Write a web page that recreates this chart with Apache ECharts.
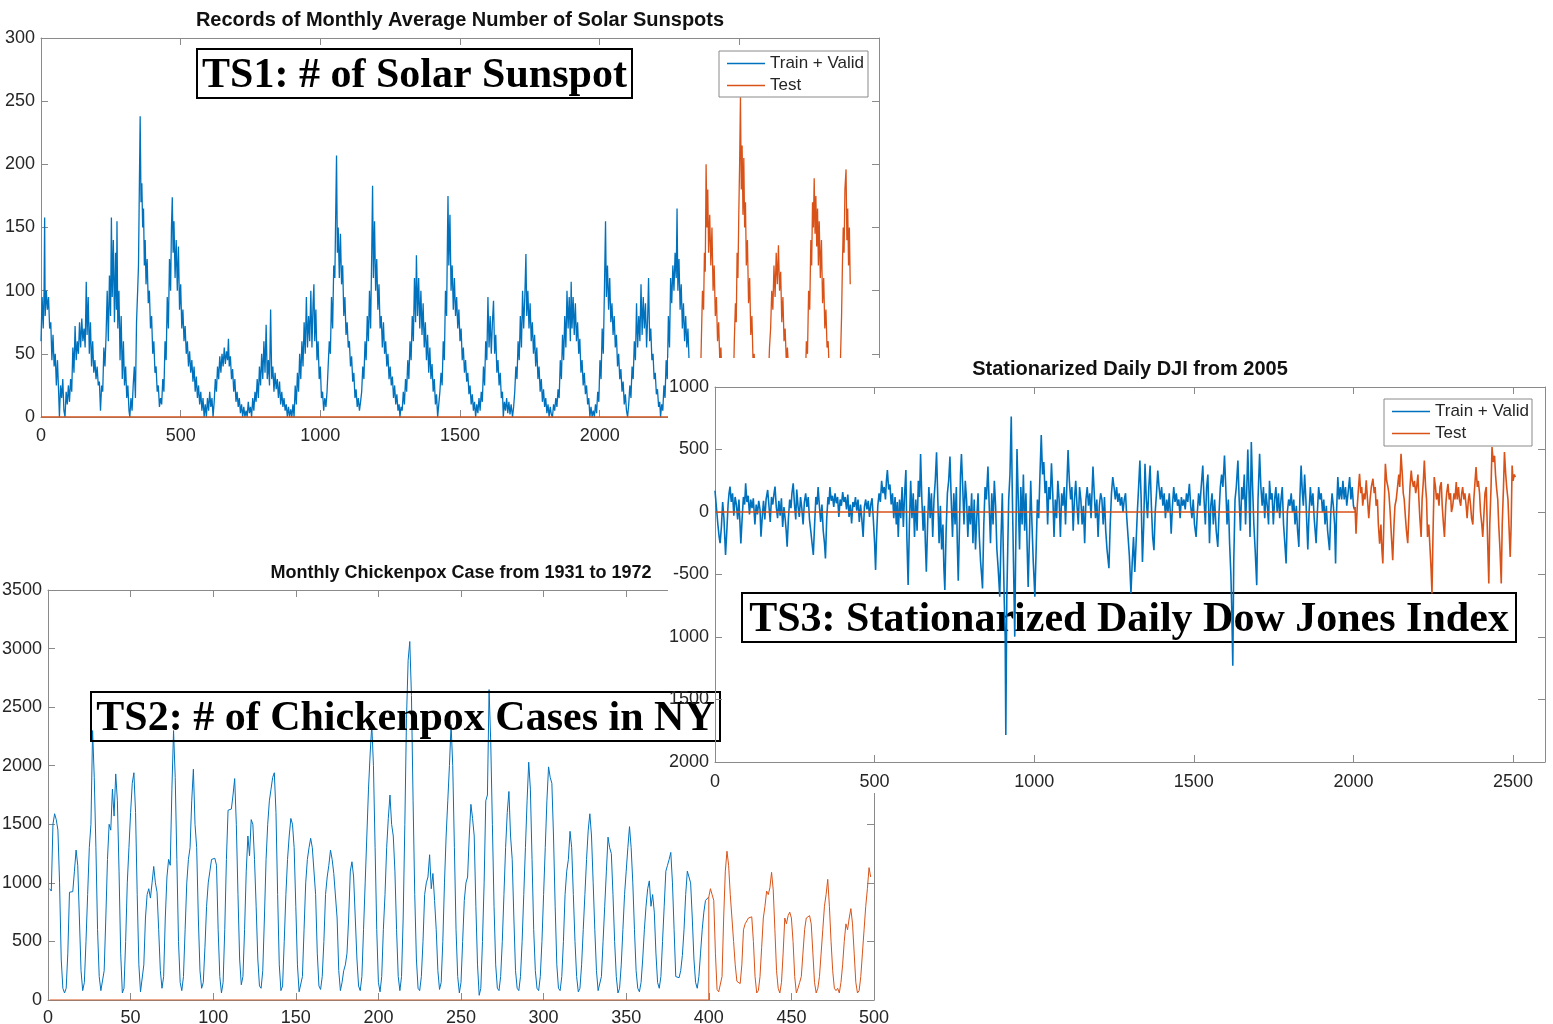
<!DOCTYPE html>
<html>
<head>
<meta charset="utf-8">
<title>TS1 / TS2 / TS3</title>
<script src="https://cdn.jsdelivr.net/npm/echarts@6/dist/echarts.min.js"></script>
<style>
html, body { margin: 0; padding: 0; background: #fff; }
.layer { position: absolute; left: 0; top: 0; width: 1553px; height: 1024px; }
</style>
</head>
<body>
<div id="ts1" class="layer"></div>
<div id="ts2" class="layer"></div>
<div id="ts3" class="layer"></div>
<script>
// ---- TS1: monthly sunspots, [index, value]
const sunTrain = [[0,60],[4,95],[8,70],[11,100],[13,158],[15,80],[19,100],[23,85],[27,95],[31,70],[35,75],[39,45],[43,65],[47,40],[51,50],[55,25],[59,45],[63,20],[66,0],[70,25],[74,15],[78,30],[82,5],[86,0],[90,20],[94,10],[98,25],[102,12],[106,30],[110,20],[114,55],[118,35],[122,72],[126,45],[130,60],[134,50],[138,75],[142,55],[146,78],[150,60],[154,70],[158,55],[162,107],[165,65],[169,95],[173,50],[177,75],[181,40],[185,60],[189,35],[193,45],[197,30],[201,40],[205,25],[209,28],[213,5],[217,25],[221,20],[225,55],[229,40],[233,65],[237,100],[241,60],[245,112],[249,80],[252,158],[255,95],[259,140],[263,75],[267,130],[270,85],[272,155],[275,70],[279,100],[283,45],[287,80],[291,30],[295,60],[299,25],[303,40],[307,15],[311,25],[315,5],[318,0],[322,15],[326,5],[330,25],[334,40],[338,15],[342,75],[346,100],[349,120],[352,180],[355,238],[358,170],[361,185],[364,150],[367,165],[370,120],[373,140],[376,105],[380,125],[384,90],[388,100],[392,70],[396,80],[400,50],[404,60],[408,35],[412,40],[416,20],[420,25],[424,8],[428,15],[432,10],[436,30],[440,20],[444,60],[448,45],[452,95],[456,70],[460,125],[464,100],[467,150],[470,174],[473,130],[476,155],[480,110],[484,140],[488,100],[492,135],[496,85],[500,105],[504,70],[508,85],[512,60],[516,72],[520,50],[524,60],[528,40],[532,52],[536,35],[540,45],[544,28],[548,40],[552,20],[556,32],[560,15],[564,25],[568,10],[572,20],[576,5],[580,15],[584,0],[588,10],[592,0],[596,15],[600,5],[604,20],[608,8],[612,15],[616,0],[620,12],[624,30],[628,20],[632,40],[636,30],[640,48],[644,35],[648,50],[652,40],[656,55],[660,42],[664,52],[668,45],[671,62],[674,40],[678,48],[682,30],[686,38],[690,20],[694,30],[698,12],[702,20],[706,8],[710,15],[714,3],[718,10],[722,0],[726,8],[730,0],[734,5],[738,0],[742,12],[746,3],[750,8],[754,0],[758,15],[762,5],[766,20],[770,12],[774,30],[778,15],[782,40],[786,25],[790,50],[794,30],[798,60],[802,35],[806,73],[810,30],[814,45],[818,25],[822,85],[826,30],[830,40],[834,20],[838,35],[842,22],[846,30],[850,15],[854,28],[858,10],[862,20],[866,8],[870,15],[874,5],[878,10],[882,0],[886,8],[890,0],[894,6],[898,0],[902,10],[906,0],[910,25],[914,10],[918,35],[922,20],[926,50],[930,30],[934,60],[938,40],[942,75],[946,50],[950,95],[954,55],[958,80],[962,60],[966,100],[970,55],[974,90],[977,105],[980,60],[984,85],[988,45],[992,60],[996,30],[1000,40],[1004,15],[1008,20],[1012,5],[1016,15],[1020,8],[1024,20],[1028,40],[1032,60],[1036,50],[1040,95],[1044,70],[1048,120],[1052,110],[1055,160],[1058,207],[1061,130],[1064,150],[1068,110],[1072,145],[1076,105],[1080,120],[1084,80],[1088,95],[1092,65],[1096,75],[1100,55],[1104,60],[1108,40],[1112,48],[1116,28],[1120,35],[1124,15],[1128,22],[1132,8],[1136,15],[1140,5],[1144,12],[1148,20],[1152,40],[1156,30],[1160,60],[1164,45],[1168,80],[1172,60],[1176,100],[1180,70],[1184,130],[1187,183],[1190,110],[1194,155],[1198,100],[1202,125],[1206,85],[1210,105],[1214,70],[1218,80],[1222,55],[1226,75],[1230,50],[1234,60],[1238,40],[1242,50],[1246,30],[1250,40],[1254,25],[1258,32],[1262,15],[1266,25],[1270,10],[1274,18],[1278,5],[1282,10],[1285,0],[1289,8],[1293,5],[1297,20],[1301,10],[1305,30],[1309,20],[1313,45],[1317,30],[1321,60],[1325,45],[1329,80],[1333,60],[1337,110],[1341,75],[1344,128],[1348,80],[1352,110],[1356,70],[1360,100],[1364,65],[1368,90],[1372,55],[1376,75],[1380,45],[1384,65],[1388,35],[1392,55],[1396,30],[1400,42],[1404,20],[1408,30],[1412,10],[1416,18],[1420,0],[1424,10],[1428,20],[1432,35],[1436,25],[1440,60],[1444,45],[1448,100],[1452,80],[1455,140],[1457,175],[1460,120],[1464,160],[1468,100],[1472,120],[1476,85],[1480,110],[1484,80],[1488,95],[1492,70],[1496,85],[1500,60],[1504,70],[1508,45],[1512,55],[1516,35],[1520,45],[1524,28],[1528,35],[1532,18],[1536,25],[1540,10],[1544,18],[1548,5],[1552,12],[1556,0],[1560,10],[1564,3],[1568,15],[1572,5],[1576,20],[1580,12],[1584,40],[1588,25],[1592,60],[1596,45],[1600,95],[1604,55],[1608,80],[1612,50],[1616,75],[1620,92],[1624,50],[1628,65],[1632,35],[1636,45],[1640,25],[1644,35],[1648,15],[1652,20],[1655,0],[1659,12],[1663,5],[1667,15],[1671,3],[1675,12],[1679,2],[1683,10],[1688,0],[1692,8],[1696,20],[1700,40],[1704,30],[1708,60],[1712,45],[1716,80],[1720,55],[1724,100],[1728,70],[1732,95],[1736,129],[1739,80],[1743,100],[1747,70],[1751,90],[1755,60],[1759,75],[1763,50],[1767,65],[1771,40],[1775,55],[1779,30],[1783,40],[1787,20],[1791,30],[1795,12],[1799,22],[1803,8],[1807,15],[1811,3],[1815,10],[1819,0],[1823,8],[1827,2],[1831,0],[1835,10],[1839,5],[1843,15],[1847,8],[1851,22],[1855,15],[1859,45],[1863,30],[1867,65],[1871,45],[1875,80],[1879,55],[1883,100],[1887,70],[1891,95],[1895,60],[1898,107],[1901,70],[1905,95],[1909,65],[1913,90],[1917,60],[1921,75],[1925,50],[1929,62],[1933,35],[1937,45],[1941,25],[1945,35],[1949,18],[1953,25],[1957,10],[1961,15],[1965,0],[1969,8],[1973,0],[1977,5],[1981,0],[1985,10],[1989,3],[1993,20],[1997,12],[2001,45],[2005,30],[2009,70],[2013,50],[2017,100],[2021,155],[2024,95],[2028,120],[2032,85],[2036,110],[2040,75],[2044,90],[2048,65],[2052,80],[2056,55],[2060,65],[2064,40],[2068,50],[2072,30],[2076,38],[2080,20],[2084,28],[2088,10],[2092,18],[2096,5],[2100,0],[2104,10],[2108,25],[2112,15],[2116,40],[2120,30],[2124,60],[2128,45],[2132,90],[2136,55],[2140,80],[2144,60],[2148,105],[2152,65],[2156,95],[2160,70],[2164,90],[2168,55],[2172,80],[2175,110],[2179,60],[2183,70],[2187,45],[2191,50],[2195,30],[2199,35],[2203,18],[2207,22],[2211,8],[2215,12],[2218,0],[2222,10],[2226,5],[2230,25],[2234,15],[2238,45],[2242,30],[2246,80],[2250,55],[2254,110],[2258,90],[2262,120],[2266,100],[2270,130],[2274,110],[2277,165],[2280,100],[2284,125],[2288,85],[2292,105],[2296,70],[2300,90],[2304,60],[2308,80],[2312,55],[2316,70],[2320,45],[2324,40]];
const sunTest = [[0,0],[2358,0],[2360,20],[2364,60],[2368,100],[2372,85],[2375,130],[2378,115],[2381,200],[2384,150],[2387,180],[2390,130],[2394,160],[2398,120],[2402,150],[2406,100],[2410,120],[2414,80],[2418,95],[2422,60],[2426,75],[2430,45],[2434,55],[2438,30],[2444,35],[2450,15],[2456,20],[2462,5],[2468,10],[2474,2],[2478,15],[2482,60],[2486,90],[2489,75],[2492,130],[2495,110],[2498,160],[2501,200],[2504,253],[2507,180],[2510,215],[2513,160],[2516,205],[2519,150],[2522,170],[2525,120],[2529,140],[2533,90],[2537,110],[2541,65],[2545,80],[2549,45],[2553,50],[2558,25],[2564,15],[2570,5],[2576,12],[2582,2],[2588,10],[2594,3],[2600,15],[2604,30],[2608,55],[2612,70],[2616,100],[2620,85],[2624,120],[2628,95],[2632,130],[2636,105],[2640,136],[2644,100],[2648,115],[2652,75],[2656,95],[2660,60],[2664,70],[2668,45],[2672,55],[2676,40],[2682,30],[2688,15],[2694,20],[2700,5],[2706,10],[2712,0],[2718,8],[2724,2],[2730,10],[2736,25],[2740,60],[2744,50],[2748,100],[2752,85],[2756,140],[2759,120],[2762,170],[2765,150],[2768,189],[2771,145],[2774,175],[2777,135],[2780,165],[2783,120],[2786,155],[2790,110],[2794,140],[2798,90],[2802,110],[2806,70],[2810,85],[2814,55],[2818,60],[2822,35],[2828,30],[2834,15],[2840,10],[2846,3],[2852,10],[2858,20],[2862,45],[2866,80],[2869,120],[2872,150],[2875,130],[2878,180],[2882,196],[2885,140],[2888,165],[2891,120],[2894,150],[2897,105]];

// ---- TS2: monthly chickenpox cases, [month, cases]
const poxTrain = [[1,950],[2,930],[3,1500],[4,1590],[5,1540],[6,1450],[7,1000],[8,350],[9,100],[10,60],[11,100],[12,400],[13,920],[14,920],[15,925],[16,1100],[17,1280],[18,1150],[19,700],[20,250],[21,80],[22,150],[23,500],[24,900],[25,1300],[26,1500],[27,2300],[28,1900],[29,1300],[30,600],[31,200],[32,80],[33,65],[34,250],[35,700],[36,1200],[37,1500],[38,1450],[39,1800],[40,1570],[41,1930],[42,1700],[43,1100],[44,400],[45,60],[46,100],[47,500],[48,1000],[49,1300],[50,1600],[51,1850],[52,1940],[53,1600],[54,900],[55,300],[56,70],[57,60],[58,300],[59,700],[60,900],[61,950],[62,870],[63,1000],[64,1140],[65,1000],[66,920],[67,600],[68,250],[69,100],[70,200],[71,700],[72,1050],[73,1200],[74,1150],[75,1800],[76,2300],[77,1900],[78,1200],[79,500],[80,150],[81,80],[82,200],[83,600],[84,1000],[85,1200],[86,1300],[87,1700],[88,1970],[89,1500],[90,1300],[91,700],[92,250],[93,100],[94,150],[95,450],[96,800],[97,1000],[98,1100],[99,1200],[100,1210],[101,1210],[102,1150],[103,600],[104,200],[105,60],[106,150],[107,600],[108,1200],[109,1620],[110,1610],[111,1630],[112,1750],[113,1890],[114,1500],[115,900],[116,350],[117,130],[118,200],[119,600],[120,1100],[121,1400],[122,1230],[123,1540],[124,1500],[125,1200],[126,800],[127,350],[128,120],[129,100],[130,250],[131,700],[132,1200],[133,1500],[134,1700],[135,1800],[136,1900],[137,1940],[138,1600],[139,900],[140,300],[141,80],[142,120],[143,500],[144,900],[145,1200],[146,1400],[147,1550],[148,1500],[149,1300],[150,800],[151,300],[152,70],[153,60],[154,200],[155,600],[156,1000],[157,1200],[158,1300],[159,1380],[160,1300],[161,1290],[162,900],[163,400],[164,120],[165,90],[166,200],[167,500],[168,900],[169,1050],[170,1150],[171,1280],[172,1200],[173,1080],[174,1080],[175,700],[176,250],[177,80],[178,150],[179,250],[180,300],[181,400],[182,700],[183,1100],[184,1180],[185,1050],[186,700],[187,350],[188,120],[189,80],[190,200],[191,600],[192,1000],[193,1400],[194,1800],[195,2100],[196,2350],[197,2000],[198,1300],[199,600],[200,150],[201,70],[202,200],[203,600],[204,900],[205,1300],[206,1550],[207,1750],[208,1500],[209,1400],[210,1100],[211,600],[212,200],[213,80],[214,200],[215,700],[216,1500],[217,2400],[218,2900],[219,3060],[220,2600],[221,1700],[222,900],[223,350],[224,100],[225,80],[226,200],[227,500],[228,900],[229,1000],[230,1050],[231,1240],[232,950],[233,1080],[234,850],[235,600],[236,250],[237,90],[238,150],[239,500],[240,1000],[241,1400],[242,1700],[243,2000],[244,2350],[245,2000],[246,1300],[247,600],[248,200],[249,60],[250,150],[251,500],[252,850],[253,1000],[254,1050],[255,1400],[256,1670],[257,1550],[258,1400],[259,800],[260,300],[261,40],[262,100],[263,500],[264,1000],[265,1700],[266,1750],[267,2650],[268,2200],[269,1500],[270,800],[271,300],[272,100],[273,80],[274,200],[275,500],[276,900],[277,1300],[278,1600],[279,1780],[280,1400],[281,1200],[282,700],[283,250],[284,100],[285,80],[286,200],[287,500],[288,900],[289,1300],[290,1700],[291,2030],[292,1800],[293,1200],[294,600],[295,250],[296,100],[297,80],[298,200],[299,500],[300,900],[301,1300],[302,1700],[303,1990],[304,1900],[305,1850],[306,1400],[307,800],[308,300],[309,100],[310,80],[311,200],[312,500],[313,900],[314,1100],[315,1200],[316,1440],[317,1300],[318,900],[319,500],[320,200],[321,70],[322,100],[323,300],[324,600],[325,900],[326,1200],[327,1450],[328,1590],[329,1400],[330,1000],[331,600],[332,250],[333,80],[334,70],[335,200],[336,500],[337,800],[338,1100],[339,1390],[340,1300],[341,1250],[342,900],[343,500],[344,200],[345,60],[346,100],[347,300],[348,600],[349,900],[350,1100],[351,1300],[352,1480],[353,1300],[354,1000],[355,600],[356,250],[357,100],[358,70],[359,150],[360,350],[361,600],[362,800],[363,950],[364,1017],[365,800],[366,900],[367,750],[368,400],[369,150],[370,100],[371,200],[372,500],[373,800],[374,1100],[375,1150],[376,1200],[377,1260],[378,1000],[379,600],[380,200],[381,190],[382,190],[383,250],[384,380],[385,600],[386,900],[387,1100],[388,1050],[389,1000],[390,700],[391,350],[392,150],[393,100],[394,200],[395,400],[396,600],[397,750],[398,850],[399,850],[400,880]];
const poxTest = [[1,0],[400,0],[400,880],[401,950],[402,900],[403,850],[404,400],[405,90],[406,70],[407,60],[408,200],[409,700],[410,1100],[411,1270],[412,1150],[413,900],[414,700],[415,500],[416,300],[417,160],[418,150],[419,140],[420,300],[421,600],[422,650],[423,640],[424,700],[425,690],[426,710],[427,500],[428,200],[429,60],[430,80],[431,200],[432,450],[433,700],[434,800],[435,930],[436,900],[437,960],[438,1090],[439,940],[440,600],[441,250],[442,100],[443,60],[444,150],[445,400],[446,700],[447,650],[448,720],[449,750],[450,700],[451,500],[452,200],[453,60],[454,100],[455,150],[456,200],[457,400],[458,600],[459,700],[460,690],[461,720],[462,650],[463,400],[464,150],[465,60],[466,100],[467,200],[468,400],[469,600],[470,800],[471,900],[472,1030],[473,800],[474,500],[475,250],[476,100],[477,80],[478,100],[479,60],[480,150],[481,300],[482,500],[483,650],[484,600],[485,700],[486,780],[487,650],[488,400],[489,150],[490,60],[491,80],[492,200],[493,400],[494,600],[495,800],[496,950],[497,1130],[498,1050]];

// ---- TS3: stationarized daily DJI, [day, value]
const djiTrain = [[0,170],[5,20],[9,-100],[13,-200],[16,-250],[20,-120],[24,80],[28,-50],[33,-344],[37,-150],[41,60],[44,150],[47,203],[51,80],[55,150],[59,-30],[63,120],[67,60],[71,-60],[75,100],[78,-80],[81,-251],[85,-50],[89,120],[93,60],[96,229],[100,80],[104,130],[108,-20],[112,100],[116,30],[120,110],[125,-100],[129,60],[133,-20],[137,90],[141,20],[144,-197],[148,-40],[152,90],[156,-60],[160,100],[165,176],[169,50],[173,-80],[177,120],[181,60],[185,150],[188,203],[192,40],[196,-50],[200,90],[204,-30],[208,110],[212,-120],[216,40],[220,-60],[223,-150],[226,-277],[230,-50],[234,100],[238,30],[241,150],[245,229],[249,60],[253,-60],[256,180],[260,50],[264,-40],[268,120],[272,30],[276,-100],[280,80],[284,150],[288,40],[292,120],[296,-60],[300,-150],[304,-250],[308,-344],[312,-100],[316,120],[320,60],[323,200],[327,50],[331,-80],[335,60],[339,-150],[343,-250],[346,-371],[350,-50],[354,120],[357,60],[360,200],[364,90],[368,130],[372,40],[376,150],[380,70],[384,120],[388,-40],[392,100],[396,50],[400,160],[404,80],[408,120],[412,20],[416,140],[420,-40],[424,60],[428,-91],[432,80],[436,40],[440,120],[444,10],[448,100],[452,-80],[456,60],[460,-60],[464,-200],[468,40],[472,100],[476,20],[480,90],[484,-40],[488,60],[492,110],[496,-60],[500,-250],[503,-464],[506,-200],[510,50],[514,150],[518,80],[522,250],[526,150],[530,200],[534,100],[537,250],[540,336],[544,180],[548,220],[552,60],[556,150],[560,-50],[564,120],[568,-100],[571,80],[574,-200],[578,100],[582,-50],[586,200],[590,-120],[594,150],[598,336],[601,-200],[605,-584],[609,-100],[613,250],[617,-50],[621,150],[625,-200],[629,100],[633,-150],[637,250],[641,120],[644,464],[648,100],[652,-150],[656,50],[659,-250],[662,-477],[666,-100],[670,200],[674,-50],[678,150],[682,-200],[686,100],[690,250],[694,477],[698,100],[702,-250],[706,50],[710,-300],[714,-100],[717,-450],[720,-624],[724,-150],[728,150],[732,250],[736,443],[740,100],[744,-200],[748,150],[752,-100],[756,200],[759,-250],[762,-550],[766,-100],[769,300],[772,464],[776,200],[780,-100],[784,250],[788,100],[792,-200],[796,50],[800,-100],[804,150],[808,-250],[812,100],[816,-300],[820,-50],[824,150],[828,-200],[832,-400],[835,-500],[838,-611],[842,-100],[846,200],[850,100],[855,363],[859,50],[863,-250],[867,150],[871,-100],[875,250],[879,50],[883,-300],[887,-450],[892,-677],[896,-200],[900,150],[903,-300],[906,-700],[909,-1000],[911,-1784],[914,-700],[917,-300],[920,100],[924,300],[928,763],[931,200],[935,-400],[939,-997],[942,-300],[946,504],[950,100],[954,-300],[958,200],[962,-100],[966,300],[970,-150],[974,150],[978,-300],[981,-600],[985,-200],[989,250],[993,-100],[997,-400],[1002,-677],[1006,-300],[1010,100],[1014,-50],[1018,300],[1022,616],[1026,300],[1030,400],[1034,150],[1038,250],[1042,-100],[1046,200],[1050,100],[1054,389],[1058,150],[1062,-200],[1066,100],[1070,-50],[1074,250],[1078,100],[1082,-200],[1086,150],[1090,50],[1094,200],[1098,-100],[1102,200],[1106,496],[1110,250],[1114,100],[1118,200],[1122,-150],[1126,100],[1130,250],[1134,50],[1138,-100],[1142,200],[1146,100],[1150,-100],[1154,50],[1158,-250],[1162,100],[1166,200],[1170,50],[1174,150],[1178,-50],[1184,363],[1188,150],[1192,-50],[1196,100],[1200,-200],[1204,50],[1208,150],[1212,100],[1216,-100],[1220,120],[1224,-150],[1228,-300],[1234,-450],[1238,-100],[1242,150],[1246,279],[1250,200],[1254,100],[1258,200],[1262,80],[1266,150],[1270,50],[1274,120],[1278,0],[1282,100],[1286,150],[1290,-50],[1294,-200],[1298,-350],[1303,-650],[1307,-400],[1311,-200],[1315,-479],[1319,-250],[1323,0],[1327,200],[1331,412],[1335,100],[1339,-400],[1343,-100],[1347,386],[1351,100],[1355,-50],[1359,200],[1363,372],[1367,50],[1371,-200],[1375,-306],[1379,0],[1383,150],[1387,332],[1391,200],[1395,100],[1399,200],[1403,50],[1407,150],[1411,-50],[1415,100],[1419,0],[1423,150],[1427,-50],[1429,-173],[1433,50],[1437,200],[1441,80],[1445,150],[1449,50],[1453,100],[1457,-50],[1461,120],[1465,50],[1469,100],[1473,20],[1477,150],[1481,80],[1486,226],[1490,50],[1494,-50],[1498,100],[1502,-100],[1507,-200],[1511,0],[1515,150],[1519,50],[1523,200],[1528,372],[1532,100],[1536,-100],[1540,200],[1544,300],[1549,-250],[1553,50],[1557,150],[1561,-100],[1565,100],[1570,-150],[1575,-279],[1579,0],[1583,200],[1587,300],[1591,200],[1596,452],[1600,200],[1604,-100],[1608,100],[1612,-250],[1616,-500],[1619,-800],[1622,-1230],[1625,-400],[1629,100],[1633,200],[1638,412],[1642,100],[1646,-150],[1650,200],[1654,100],[1658,300],[1662,-100],[1666,200],[1669,500],[1673,150],[1676,-200],[1680,559],[1684,200],[1688,-100],[1692,-300],[1697,-585],[1701,100],[1706,466],[1710,200],[1714,50],[1718,200],[1722,-50],[1726,150],[1730,50],[1734,-100],[1737,250],[1741,100],[1745,150],[1749,-100],[1753,100],[1757,200],[1761,0],[1765,150],[1769,-50],[1773,100],[1777,200],[1781,-100],[1785,-250],[1789,-412],[1793,0],[1797,100],[1801,50],[1805,150],[1809,0],[1813,100],[1817,-100],[1821,50],[1825,-150],[1829,-279],[1832,100],[1836,372],[1840,150],[1843,50],[1847,300],[1851,100],[1854,-100],[1857,-300],[1861,0],[1865,200],[1869,50],[1873,150],[1877,-50],[1880,-150],[1883,-250],[1887,0],[1891,200],[1895,100],[1899,150],[1903,0],[1907,100],[1911,-100],[1915,50],[1919,-150],[1925,-306],[1929,0],[1933,150],[1937,50],[1941,-100],[1944,-412],[1947,0],[1951,279],[1955,100],[1959,200],[1963,100],[1967,250],[1971,100],[1975,200],[1979,50],[1983,150],[1988,279],[1992,100],[1996,200],[2000,50],[2003,20],[2005,40]];
const djiTest = [[0,0],[2005,0],[2005,40],[2008,-173],[2012,50],[2016,200],[2019,306],[2023,150],[2026,200],[2029,50],[2033,150],[2036,100],[2040,253],[2044,100],[2048,-50],[2052,100],[2056,200],[2061,266],[2065,150],[2068,200],[2071,50],[2075,100],[2078,-100],[2082,-253],[2086,-100],[2089,-300],[2092,-412],[2096,0],[2100,386],[2104,250],[2108,200],[2111,150],[2115,0],[2119,-200],[2123,-386],[2127,-100],[2130,50],[2134,100],[2138,200],[2142,300],[2145,200],[2149,466],[2153,300],[2156,150],[2159,100],[2163,-50],[2166,-150],[2170,-250],[2174,0],[2177,200],[2181,332],[2184,250],[2188,200],[2191,250],[2195,150],[2198,200],[2202,300],[2205,100],[2208,-50],[2212,-200],[2215,100],[2219,250],[2222,412],[2226,200],[2229,100],[2232,-200],[2236,-100],[2240,-300],[2243,-450],[2246,-652],[2249,-200],[2253,279],[2257,200],[2260,100],[2264,150],[2268,50],[2271,200],[2275,239],[2278,50],[2282,-100],[2285,-200],[2289,50],[2292,150],[2296,226],[2300,100],[2304,150],[2307,0],[2311,50],[2315,150],[2318,100],[2322,239],[2325,100],[2329,200],[2332,100],[2336,50],[2339,150],[2342,200],[2346,100],[2349,150],[2353,50],[2356,-50],[2360,100],[2363,150],[2367,50],[2370,-50],[2374,-100],[2377,100],[2381,250],[2384,359],[2388,200],[2391,250],[2395,150],[2398,0],[2402,-100],[2405,-200],[2409,0],[2412,150],[2416,200],[2419,-100],[2421,-300],[2424,-572],[2427,-100],[2431,200],[2434,519],[2438,400],[2442,450],[2445,300],[2448,200],[2452,100],[2455,-100],[2459,-300],[2463,-572],[2466,-100],[2470,200],[2473,479],[2477,300],[2480,200],[2484,100],[2487,-100],[2491,-359],[2494,-100],[2497,372],[2500,250],[2504,300],[2507,280]];

// tick labels of the DJI y axis as printed (minus signs lost below -500)
const djiYTicks = [-2000, -1500, -1000, -500, 0, 500, 1000];
const djiYText = ['2000', '1500', '1000', '-500', '0', '500', '1000'];

const BLUE = '#0072BD', ORANGE = '#D95319';
const AXIS = '#8a8a8a', TXT = '#262626';
const SANS = '"Liberation Sans", Arial, sans-serif';
const SERIF = '"Liberation Serif", "Times New Roman", serif';

// matlab style box: labelled bottom/left axes, bare top/right axes, ticks inward
function xAxes(min, max, step, margin) {
    const base = {
        type: 'value', min: min, max: max, interval: step,
        splitLine: { show: false },
        axisLine: { show: true, onZero: false, lineStyle: { color: AXIS, width: 1 } },
        axisTick: { show: true, inside: true, length: 7, lineStyle: { color: AXIS } }
    };
    return [
        Object.assign({}, base, { position: 'bottom',
            axisLabel: { color: TXT, fontSize: 18, fontFamily: SANS, margin: margin,
                formatter: v => (v % step === 0 ? String(v) : '') } }),
        Object.assign({}, base, { position: 'top', axisLabel: { show: false } })
    ];
}
function yAxes(min, max, step, fmt) {
    const base = {
        type: 'value', min: min, max: max, interval: step,
        splitLine: { show: false },
        axisLine: { show: true, onZero: false, lineStyle: { color: AXIS, width: 1 } },
        axisTick: { show: true, inside: true, length: 7, lineStyle: { color: AXIS } }
    };
    return [
        Object.assign({}, base, { position: 'left',
            axisLabel: { color: TXT, fontSize: 18, fontFamily: SANS, margin: 6,
                formatter: fmt || (v => String(v)) } }),
        Object.assign({}, base, { position: 'right', axisLabel: { show: false } })
    ];
}
function lines(train, test, width) {
    return [
        { name: 'Train + Valid', type: 'line', data: train, showSymbol: false, symbol: 'none',
          lineStyle: { color: BLUE, width: width }, itemStyle: { color: BLUE } },
        { name: 'Test', type: 'line', data: test, showSymbol: false, symbol: 'none',
          lineStyle: { color: ORANGE, width: width }, itemStyle: { color: ORANGE } }
    ];
}
function title(text, cx, cy, size) {
    return { type: 'text', style: { text: text, x: cx, y: cy, align: 'center', verticalAlign: 'middle',
        font: 'bold ' + size + 'px ' + SANS, fill: '#111' } };
}
function legend(x, y, w, h) {
    return [
        { type: 'rect', shape: { x: x, y: y, width: w, height: h }, style: { fill: '#fff', stroke: AXIS, lineWidth: 1 } },
        { type: 'line', shape: { x1: x + 8, y1: y + 12.5, x2: x + 46, y2: y + 12.5 }, style: { stroke: BLUE, lineWidth: 1.3 } },
        { type: 'line', shape: { x1: x + 8, y1: y + 34.5, x2: x + 46, y2: y + 34.5 }, style: { stroke: ORANGE, lineWidth: 1.3 } },
        { type: 'text', style: { text: 'Train + Valid', x: x + 51, y: y + 12.5, verticalAlign: 'middle', font: '17px ' + SANS, fill: TXT } },
        { type: 'text', style: { text: 'Test', x: x + 51, y: y + 34.5, verticalAlign: 'middle', font: '17px ' + SANS, fill: TXT } }
    ];
}
function tag(text, x, y, w, h) {
    return [
        { type: 'rect', shape: { x: x, y: y, width: w, height: h }, style: { fill: 'none', stroke: '#000', lineWidth: 2 } },
        { type: 'text', style: { text: text, x: x + w / 2, y: y + h / 2 + 3, align: 'center', verticalAlign: 'middle',
            font: 'bold 42px ' + SERIF, fill: '#000' } }
    ];
}

// TS1
const c1 = echarts.init(document.getElementById('ts1'));
c1.setOption({
    animation: false,
    grid: { left: 41, top: 38, width: 838, height: 379, outerBoundsMode: 'none' },
    xAxis: xAxes(0, 3000, 500, 10),
    yAxis: yAxes(0, 300, 50),
    series: lines(sunTrain, sunTest, 1.3),
    graphic: [title('Records of Monthly Average Number of Solar Sunspots', 460, 20, 20)]
});

// TS2
const c2 = echarts.init(document.getElementById('ts2'));
c2.setOption({
    animation: false,
    grid: { left: 48, top: 590, width: 826, height: 410, outerBoundsMode: 'none' },
    xAxis: xAxes(0, 500, 50, 9),
    yAxis: yAxes(0, 3500, 500),
    series: lines(poxTrain, poxTest, 1),
    graphic: [title('Monthly Chickenpox Case from 1931 to 1972', 461, 573, 18)]
});

// TS3 sits on a white sheet laid over the other two
const c3 = echarts.init(document.getElementById('ts3'));
c3.setOption({
    animation: false,
    grid: { left: 715, top: 387, width: 830, height: 375, outerBoundsMode: 'none' },
    xAxis: xAxes(0, 2600, 500, 11),
    yAxis: yAxes(-2000, 1000, 500, v => {
        const i = djiYTicks.indexOf(v);
        return i < 0 ? '' : djiYText[i];
    }),
    series: lines(djiTrain, djiTest, 1.6),
    graphic: [
        { type: 'rect', z: -10, shape: { x: 668, y: 358, width: 885, height: 435 }, style: { fill: '#fff' } },
        title('Stationarized Daily DJI from 2005', 1130, 369, 20)
    ].concat(
        legend(719, 51, 149, 46),
        legend(1384, 399, 148, 47),
        tag('TS1: # of Solar Sunspot', 197, 49, 435, 49),
        tag('TS2: # of Chickenpox Cases in NY', 91, 692, 629, 49),
        tag('TS3: Stationarized Daily Dow Jones Index', 742, 593, 774, 49)
    )
});
</script>
</body>
</html>
